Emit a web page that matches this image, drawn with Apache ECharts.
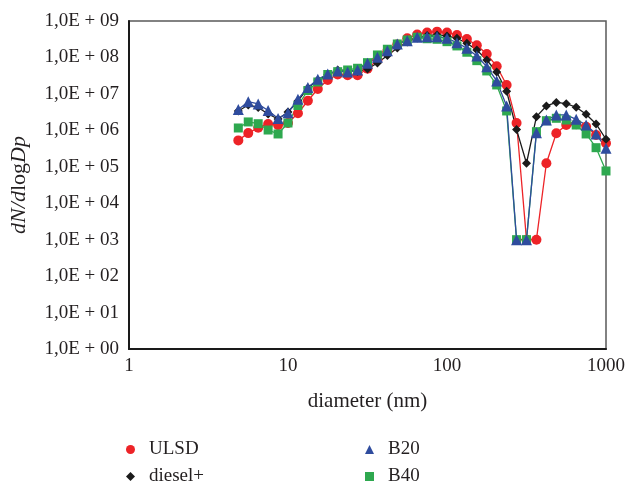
<!DOCTYPE html>
<html>
<head>
<meta charset="utf-8">
<script src="https://cdn.jsdelivr.net/npm/echarts@6/dist/echarts.min.js"></script>
<style>
  html, body { margin: 0; padding: 0; background: #fff; }
  #chart { width: 628px; height: 485px; }
</style>
</head>
<body>
<div id="chart"></div>
<script>
// Particle number size distribution, dN/dlogDp versus mobility diameter (nm)
const diameters = [
  4.870, 5.623, 6.494, 7.499, 8.660, 10.00, 11.548, 13.335, 15.399, 17.783,
  20.535, 23.714, 27.384, 31.623, 36.517, 42.170, 48.697, 56.234, 64.938, 74.989,
  86.596, 100.0, 115.48, 133.35, 153.99, 177.83, 205.35, 237.14, 273.84, 316.23,
  365.17, 421.70, 486.97, 562.34, 649.38, 749.89, 865.96, 1000.0
];

const ulsd = [
  5.3e5, 8.4e5, 1.18e6, 1.5e6, 1.39e6, 1.59e6, 2.94e6, 6.47e6, 1.36e7, 2.41e7,
  3.41e7, 3.26e7, 3.26e7, 4.89e7, 8.53e7, 1.49e8, 2.26e8, 3.36e8, 4.25e8, 4.85e8,
  5.1e8, 4.85e8, 4.14e8, 3.19e8, 2.16e8, 1.24e8, 5.73e7, 1.76e7, 1.59e6, 1.0e3,
  1.0e3, 1.25e5, 8.3e5, 1.4e6, 1.47e6, 1.26e6, 7.46e5, 4.41e5
];

const dieselPlus = [
  3.4e6, 4.96e6, 4.24e6, 2.81e6, 2.05e6, 3.19e6, 6.4e6, 1.45e7, 2.41e7, 3.41e7,
  4.53e7, 4.4e7, 4.12e7, 4.83e7, 7.06e7, 1.13e8, 1.82e8, 2.66e8, 3.42e8, 4.01e8,
  4.14e8, 3.89e8, 3.36e8, 2.45e8, 1.6e8, 8.5e7, 3.99e7, 1.18e7, 1.05e6, 1.25e5,
  2.37e6, 4.66e6, 5.82e6, 5.39e6, 4.3e6, 2.76e6, 1.5e6, 5.69e5
];

const b20 = [
  3.73e6, 6.12e6, 5.29e6, 3.51e6, 2.12e6, 3.05e6, 7.12e6, 1.5e7, 2.52e7, 3.52e7,
  4.26e7, 3.99e7, 4.53e7, 6.92e7, 1.01e8, 1.53e8, 2.34e8, 2.89e8, 3.58e8, 3.72e8,
  3.72e8, 3.36e8, 2.55e8, 1.79e8, 1.1e8, 5.58e7, 2.26e7, 4.66e6, 1.0e3, 1.0e3,
  8.63e5, 1.92e6, 2.64e6, 2.64e6, 2.01e6, 1.4e6, 7.95e5, 3.22e5
];

const b40 = [
  1.16e6, 1.7e6, 1.52e6, 1.02e6, 7.95e5, 1.59e6, 4.81e6, 1.24e7, 2.12e7, 3.41e7,
  4.07e7, 4.53e7, 5.05e7, 7.19e7, 1.17e8, 1.68e8, 2.34e8, 3.02e8, 3.58e8, 3.26e8,
  3.15e8, 2.71e8, 2.07e8, 1.39e8, 8.16e7, 4.26e7, 1.76e7, 3.4e6, 1.0e3, 1.0e3,
  9.19e5, 1.84e6, 2.14e6, 1.92e6, 1.4e6, 7.95e5, 3.34e5, 7.67e4
];

const xTickLabels = ['1', '10', '100', '1000'];

const FONT = '"Liberation Serif", "DejaVu Serif", serif';
const pairs = vals => diameters.map((d, i) => [d, vals[i]]);

const seriesDefs = [
  { name: 'ULSD',    data: ulsd,       color: '#ED2327', symbol: 'circle',   size: 10 },
  { name: 'diesel+', data: dieselPlus, color: '#1B1B1B', symbol: 'diamond',  size: 9 },
  { name: 'B40',     data: b40,        color: '#2EA84F', symbol: 'rect',     size: 9 },
  { name: 'B20',     data: b20,        color: '#2F4C9E', symbol: 'triangle', size: 11 }
];

// legend entries laid out as a 2 x 2 block under the plot
const legendSlots = [
  { name: 'ULSD',    icon: 'circle',   left: 126, top: 440 },
  { name: 'diesel+', icon: 'diamond',  left: 126, top: 467 },
  { name: 'B20',     icon: 'triangle', left: 365, top: 440 },
  { name: 'B40',     icon: 'rect',     left: 365, top: 467 }
];

const chart = echarts.init(document.getElementById('chart'), null, { renderer: 'canvas' });

chart.setOption({
  animation: false,
  backgroundColor: '#ffffff',
  grid: {
    left: 127, right: 21, top: 21, bottom: 136,
    show: true, borderColor: '#5a5a5a', borderWidth: 1.5
  },
  legend: legendSlots.map(l => ({
    left: l.left, top: l.top, padding: 0,
    itemWidth: 9, itemHeight: 9,
    textStyle: { fontFamily: FONT, fontSize: 19, color: '#231F20', padding: [0, 0, 0, 9] },
    data: [{ name: l.name, icon: l.icon }]
  })),
  xAxis: {
    type: 'log', logBase: 10, min: 1, max: 1000, splitNumber: 3,
    name: 'diameter (nm)', nameLocation: 'middle', nameGap: 42,
    nameTextStyle: { fontFamily: FONT, fontSize: 21, color: '#231F20' },
    axisLine: { lineStyle: { color: '#1a1a1a', width: 2 } },
    axisTick: { show: false },
    splitLine: { show: false },
    axisLabel: {
      fontFamily: FONT, fontSize: 19, color: '#231F20', margin: 8,
      formatter: v => xTickLabels[Math.round(Math.log10(v))]
    }
  },
  yAxis: {
    type: 'log', logBase: 10, min: 1, max: 1e9, splitNumber: 9,
    name: '{i|dN}{i|/}{i|d}{r|log}{i|Dp}', nameLocation: 'middle', nameGap: 99,
    nameRotate: 90,
    nameTextStyle: {
      rich: {
        i: { fontFamily: FONT, fontSize: 22, fontStyle: 'italic', color: '#231F20' },
        r: { fontFamily: FONT, fontSize: 22, color: '#231F20' }
      }
    },
    axisLine: { lineStyle: { color: '#1a1a1a', width: 2 } },
    axisTick: { show: false },
    splitLine: { show: false },
    axisLabel: {
      fontFamily: FONT, fontSize: 19, color: '#231F20', margin: 10,
      formatter: v => '1,0E + ' + String(Math.round(Math.log10(v))).padStart(2, '0')
    }
  },
  series: seriesDefs.map(s => ({
    name: s.name,
    type: 'line',
    data: pairs(s.data),
    symbol: s.symbol,
    symbolSize: s.size,
    color: s.color,
    lineStyle: { color: s.color, width: 1.3 },
    itemStyle: { color: s.color },
    emphasis: { disabled: true }
  }))
});
</script>
</body>
</html>
